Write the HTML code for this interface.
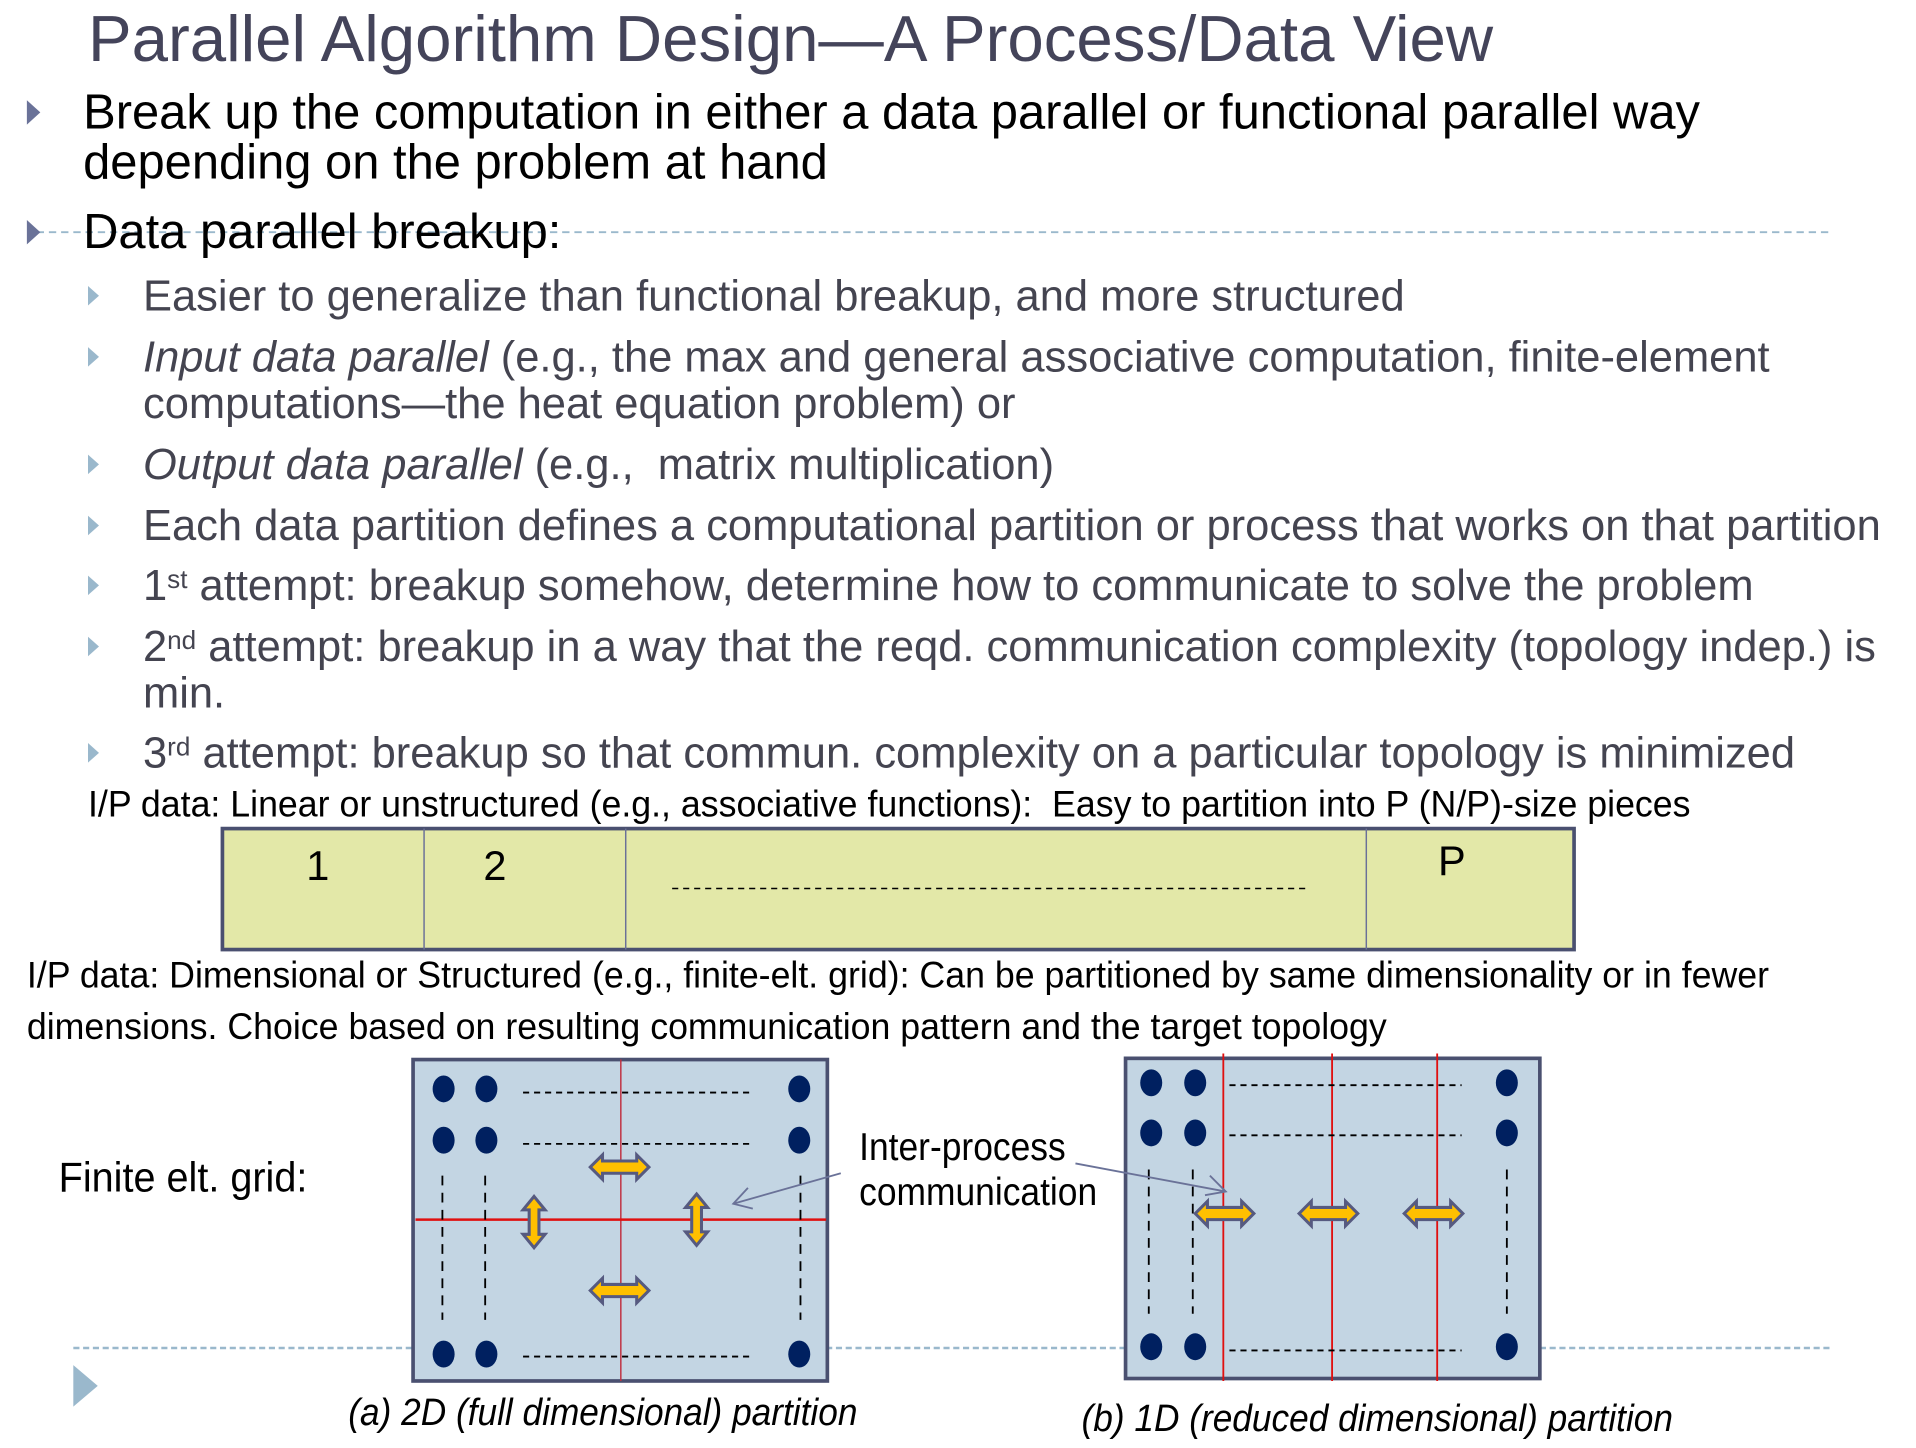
<!DOCTYPE html>
<html><head><meta charset="utf-8"><style>
html,body{margin:0;padding:0;background:#fff;overflow:hidden}
#w{position:absolute;left:0;top:0;width:1570px;height:1185px;transform:scale(1.2221);transform-origin:0 0;font-family:"Liberation Sans",Arial,sans-serif}
.t{position:absolute;white-space:nowrap;line-height:1;transform-origin:0 0}
.n{font-family:"Liberation Sans",sans-serif}
.l1{font-size:40px;color:#000}
.l2{font-size:35.6px;color:#444450}
.b1{position:absolute;width:0;height:0;border-left:11px solid #6a7298;border-top:10px solid transparent;border-bottom:10px solid transparent}
.b2{position:absolute;width:0;height:0;border-left:9px solid #9ab8cc;border-top:8px solid transparent;border-bottom:8px solid transparent}
sup{font-size:60%;vertical-align:top;line-height:1;position:relative;top:2px}
</style></head><body><div id="w">
<div class="t" style="left:72px;top:6px;font-size:53.5px;color:#44445a">Parallel Algorithm Design—A Process/Data View</div>
<svg style="position:absolute;left:0;top:0" width="1570" height="1185">
<line x1="30" y1="190" x2="1500" y2="190" stroke="#9ab8cc" stroke-width="1.5" stroke-dasharray="6,4"/>
<line x1="60" y1="1103" x2="1500" y2="1103" stroke="#9ab8cc" stroke-width="2" stroke-dasharray="5,3"/>
<polygon points="60,1117 80,1134 60,1151" fill="#9ab8cc"/>
<rect x="182" y="678" width="1106" height="99" fill="#e3e8a8" stroke="#4a5070" stroke-width="3"/>
<line x1="347" y1="678" x2="347" y2="777" stroke="#6a7098" stroke-width="1.2"/>
<line x1="512" y1="678" x2="512" y2="777" stroke="#6a7098" stroke-width="1.2"/>
<line x1="1118" y1="678" x2="1118" y2="777" stroke="#6a7098" stroke-width="1.2"/>
<line x1="550" y1="727" x2="1072" y2="727" stroke="#000" stroke-width="1.2" stroke-dasharray="5,4"/>
<text x="260" y="720" font-size="34" text-anchor="middle" font-family="Liberation Sans">1</text>
<text x="405" y="720" font-size="34" text-anchor="middle" font-family="Liberation Sans">2</text>
<text x="1188" y="716" font-size="34" text-anchor="middle" font-family="Liberation Sans">P</text>
<defs>
<g id="ha"><polygon points="-24,0 -14,-10 -14,-5 14,-5 14,-10 24,0 14,10 14,5 -14,5 -14,10" fill="#ffc000" stroke="#565a80" stroke-width="2.5"/></g>
<g id="va"><polygon points="0,-21 9,-10 4,-10 4,10 9,10 0,21 -9,10 -4,10 -4,-10 -9,-10" fill="#ffc000" stroke="#565a80" stroke-width="2.5"/></g>
</defs>
<rect x="338" y="867" width="339" height="263" fill="#c3d5e3" stroke="#4a5070" stroke-width="3"/>
<line x1="508" y1="867" x2="508" y2="1130" stroke="#c03040" stroke-width="1.2"/>
<line x1="340" y1="998" x2="676" y2="998" stroke="#e01010" stroke-width="2"/>
<g fill="#002060">
<ellipse cx="363" cy="891" rx="9" ry="11"/><ellipse cx="398" cy="891" rx="9" ry="11"/><ellipse cx="654" cy="891" rx="9" ry="11"/>
<ellipse cx="363" cy="933" rx="9" ry="11"/><ellipse cx="398" cy="933" rx="9" ry="11"/><ellipse cx="654" cy="933" rx="9" ry="11"/>
<ellipse cx="363" cy="1108" rx="9" ry="11"/><ellipse cx="398" cy="1108" rx="9" ry="11"/><ellipse cx="654" cy="1108" rx="9" ry="11"/>
</g>
<g stroke="#000" stroke-width="1.5" stroke-dasharray="5,4">
<line x1="428" y1="894" x2="617" y2="894"/><line x1="428" y1="936" x2="617" y2="936"/><line x1="428" y1="1110" x2="617" y2="1110"/>
<line x1="362" y1="962" x2="362" y2="1080" stroke-dasharray="8,6"/><line x1="397" y1="962" x2="397" y2="1080" stroke-dasharray="8,6"/><line x1="655" y1="962" x2="655" y2="1080" stroke-dasharray="8,6"/>
</g>
<use href="#ha" x="507" y="955"/><use href="#ha" x="507" y="1056"/>
<use href="#va" x="437" y="1000"/><use href="#va" x="570" y="998"/>
<rect x="921" y="866" width="339" height="262" fill="#c3d5e3" stroke="#4a5070" stroke-width="3"/>
<g stroke="#e01010" stroke-width="1.5"><line x1="1001" y1="862" x2="1001" y2="1130"/><line x1="1090" y1="862" x2="1090" y2="1130"/><line x1="1176" y1="862" x2="1176" y2="1130"/></g>
<g fill="#002060">
<ellipse cx="942" cy="886" rx="9" ry="11"/><ellipse cx="978" cy="886" rx="9" ry="11"/><ellipse cx="1233" cy="886" rx="9" ry="11"/>
<ellipse cx="942" cy="927" rx="9" ry="11"/><ellipse cx="978" cy="927" rx="9" ry="11"/><ellipse cx="1233" cy="927" rx="9" ry="11"/>
<ellipse cx="942" cy="1102" rx="9" ry="11"/><ellipse cx="978" cy="1102" rx="9" ry="11"/><ellipse cx="1233" cy="1102" rx="9" ry="11"/>
</g>
<g stroke="#000" stroke-width="1.5" stroke-dasharray="5,4">
<line x1="1006" y1="888" x2="1196" y2="888"/><line x1="1006" y1="929" x2="1196" y2="929"/><line x1="1006" y1="1105" x2="1196" y2="1105"/>
<line x1="940" y1="957" x2="940" y2="1075" stroke-dasharray="8,6"/><line x1="976" y1="957" x2="976" y2="1075" stroke-dasharray="8,6"/><line x1="1233" y1="957" x2="1233" y2="1075" stroke-dasharray="8,6"/>
</g>
<use href="#ha" x="1002" y="993"/><use href="#ha" x="1087" y="993"/><use href="#ha" x="1173" y="993"/>
<g stroke="#6a7298" stroke-width="1.5" fill="none">
<line x1="688" y1="960" x2="600" y2="985"/><polyline points="612,972 600,985 616,989"/>
<line x1="880" y1="952" x2="1003" y2="975"/><polyline points="990,962 1003,975 986,978"/>
</g>
</svg>

<div class="b1" style="left:22px;top:82px"></div>
<div class="t l1" style="left:68px;top:72px">Break up the computation in either a data parallel or functional parallel way</div>
<div class="t l1" style="left:68px;top:113px">depending on the problem at hand</div>
<div class="b1" style="left:22px;top:180px"></div>
<div class="t l1" style="left:68px;top:170px">Data parallel breakup:</div>

<div class="b2" style="left:72px;top:234px"></div><div class="t l2" style="left:117px;top:225px">Easier to generalize than functional breakup, and more structured</div>
<div class="b2" style="left:72px;top:284px"></div><div class="t l2" style="left:117px;top:275px"><i>Input data parallel</i> (e.g., the max and general associative computation, finite-element</div>
<div class="t l2" style="left:117px;top:313px">computations—the heat equation problem) or</div>
<div class="b2" style="left:72px;top:372px"></div><div class="t l2" style="left:117px;top:363px"><i>Output data parallel</i> (e.g.,&nbsp; matrix multiplication)</div>
<div class="b2" style="left:72px;top:422px"></div><div class="t l2" style="left:117px;top:413px">Each data partition defines a computational partition or process that works on that partition</div>
<div class="b2" style="left:72px;top:471px"></div><div class="t l2" style="left:117px;top:462px">1<sup>st</sup> attempt: breakup somehow, determine how to communicate to solve the problem</div>
<div class="b2" style="left:72px;top:521px"></div><div class="t l2" style="left:117px;top:512px">2<sup>nd</sup> attempt: breakup in a way that the reqd. communication complexity (topology indep.) is</div>
<div class="t l2" style="left:117px;top:550px">min.</div>
<div class="b2" style="left:72px;top:608px"></div><div class="t l2" style="left:117px;top:599px">3<sup>rd</sup> attempt: breakup so that commun. complexity on a particular topology is minimized</div>

<div class="t n" style="left:72px;top:644px;font-size:30.2px;transform:scaleX(0.968)">I/P data: Linear or unstructured (e.g., associative functions):&nbsp; Easy to partition into P (N/P)-size pieces</div>
<div class="t n" style="left:22px;top:784px;font-size:30.2px;transform:scaleX(0.968)">I/P data: Dimensional or Structured (e.g., finite-elt. grid): Can be partitioned by same dimensionality or in fewer</div>
<div class="t n" style="left:22px;top:826px;font-size:30.2px;transform:scaleX(0.968)">dimensions. Choice based on resulting communication pattern and the target topology</div>
<div class="t n" style="left:48px;top:947px;font-size:34px;transform:scaleX(0.953)">Finite elt. grid:</div>
<div class="t n" style="left:703px;top:922px;font-size:32px;transform:scaleX(0.905)">Inter-process</div>
<div class="t n" style="left:703px;top:959px;font-size:32px;transform:scaleX(0.905)">communication</div>
<div class="t n" style="left:285px;top:1140px;font-size:31px;font-style:italic;transform:scaleX(0.93)">(a) 2D (full dimensional) partition</div>
<div class="t n" style="left:885px;top:1145px;font-size:31px;font-style:italic;transform:scaleX(0.93)">(b) 1D (reduced dimensional) partition</div>
</div></body></html>
